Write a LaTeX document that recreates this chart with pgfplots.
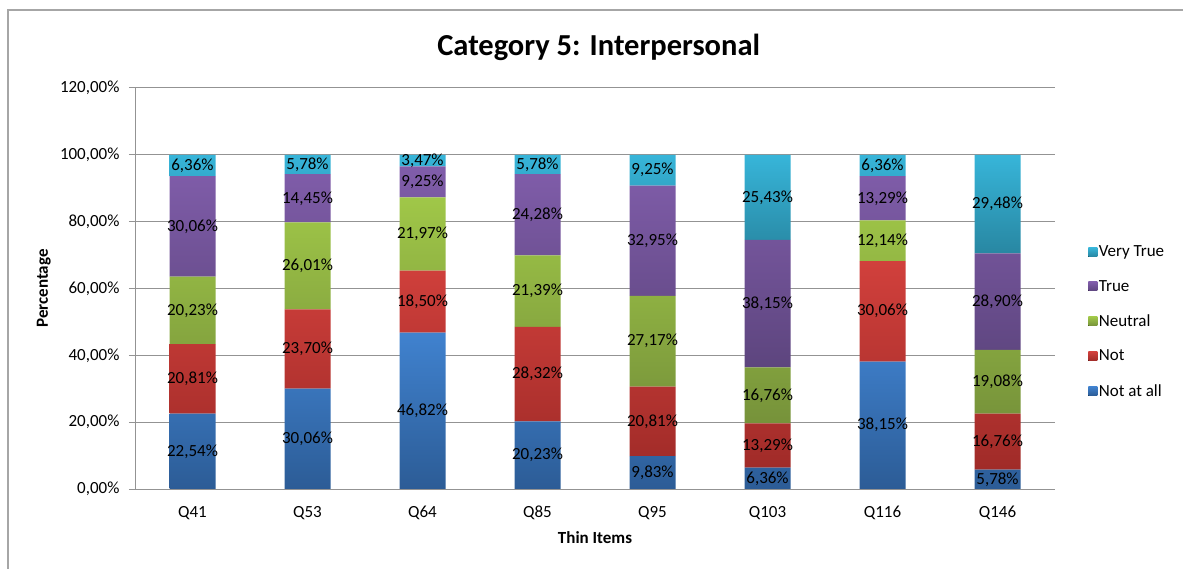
\documentclass[border=0pt]{standalone}
\usepackage{fontspec}
\setmainfont{Carlito}
\usepackage{pgfplots}
\usepackage{pgfplotstable}
\pgfplotsset{compat=1.18}

\definecolor{gridc}{HTML}{939393}
\definecolor{frame}{HTML}{A6A6A6}
\definecolor{bluet}{HTML}{4082CF}\definecolor{blueb}{HTML}{2C5C96}
\definecolor{redt}{HTML}{D1403C}\definecolor{redb}{HTML}{A02B28}
\definecolor{greent}{HTML}{A0C748}\definecolor{greenb}{HTML}{76923A}
\definecolor{purpt}{HTML}{805DAA}\definecolor{purpb}{HTML}{5D457E}
\definecolor{cyant}{HTML}{37B5D9}\definecolor{cyanb}{HTML}{2887A2}

\pgfplotstableread{
x a b c d e
0 22.54 20.81 20.23 30.06 6.36
1 30.06 23.70 26.01 14.45 5.78
2 46.82 18.50 21.97 9.25 3.47
3 20.23 28.32 21.39 24.28 5.78
4 9.83 20.81 27.17 32.95 9.25
5 6.36 13.29 16.76 38.15 25.43
6 38.15 30.06 12.14 13.29 6.36
7 5.78 16.76 19.08 28.90 29.48
}\data

\newcommand{\fs}{\fontsize{17bp}{20bp}\selectfont}

\pgfplotsset{
  seg/.style 2 args={
    draw=none, top color=#1, bottom color=#2,
    nodes near coords={\pgfmathprintnumber[fixed,fixed zerofill,precision=2,use comma,assume math mode=true]{\pgfplotspointmeta}\%},
    every node near coord/.style={anchor=center, font=\fs, text=black},
  },
}

\begin{document}
\begin{tikzpicture}
\useasboundingbox (0,0) rectangle (1183bp,569bp);
\draw[frame, line width=1.5bp] (8bp,-2bp) -- (8bp,559bp) -- (1185bp,559bp);
\begin{axis}[
    at={(135bp,80bp)}, anchor=south west,
    scale only axis, width=920bp, height=401bp,
    ybar stacked, bar width=46bp,
    xmin=-0.5, xmax=7.5, ymin=0, ymax=120,
    xtick={0,...,7},
    xticklabels={Q41,Q53,Q64,Q85,Q95,Q103,Q116,Q146},
    major x tick style={draw=none},
    extra x ticks={-0.5,0.5,...,7.5},
    extra x tick labels={},
    extra x tick style={major tick length=6bp, tick style={gridc, line width=1bp}},
    ytick={0,20,...,120},
    yticklabel={\pgfmathprintnumber[fixed,fixed zerofill,precision=2,use comma,assume math mode=true]{\tick}\%},
    tick align=outside, major tick length=6bp,
    tick style={gridc, line width=1bp},
    axis x line*=bottom, axis y line*=left,
    axis line style={gridc, line width=1bp},
    ymajorgrids, grid style={gridc, line width=1bp},
    tick label style={font=\fs, text=black},
    xticklabel style={anchor=base, yshift=-22bp},
    yticklabel style={xshift=-6bp},
    xlabel={\textbf{Thin Items}},
    ylabel={\textbf{Percentage}},
    label style={font=\fs},
    x label style={at={(axis description cs:0.5,-0.122)}, anchor=center},
    y label style={at={(axis description cs:-0.099,0.5)}, anchor=center},
    title={Category 5: Interpersonal},
    title style={font=\fontsize{30.5bp}{36bp}\selectfont\bfseries,
      at={(axis description cs:0.504,1.066)}, anchor=base},
    point meta=explicit,
    legend style={draw=none, fill=none, font=\fs, at={(1.036,0.417)}, anchor=west,
      row sep=19bp, inner sep=0pt, nodes={inner sep=1.5bp}},
    legend cell align=left,
    reverse legend,
    legend image code/.code={\fill[#1] (0bp,-4.5bp) rectangle (9bp,4.5bp);},
]
\addplot[seg={bluet}{blueb}] table[x=x,y=a,meta=a]{\data};
\addplot[seg={redt}{redb}] table[x=x,y=b,meta=b]{\data};
\addplot[seg={greent}{greenb}] table[x=x,y=c,meta=c]{\data};
\addplot[seg={purpt}{purpb}] table[x=x,y=d,meta=d]{\data};
\addplot[seg={cyant}{cyanb}] table[x=x,y=e,meta=e]{\data};
\legend{Not at all,Not,Neutral,True,Very True}
\end{axis}
\end{tikzpicture}
\end{document}
